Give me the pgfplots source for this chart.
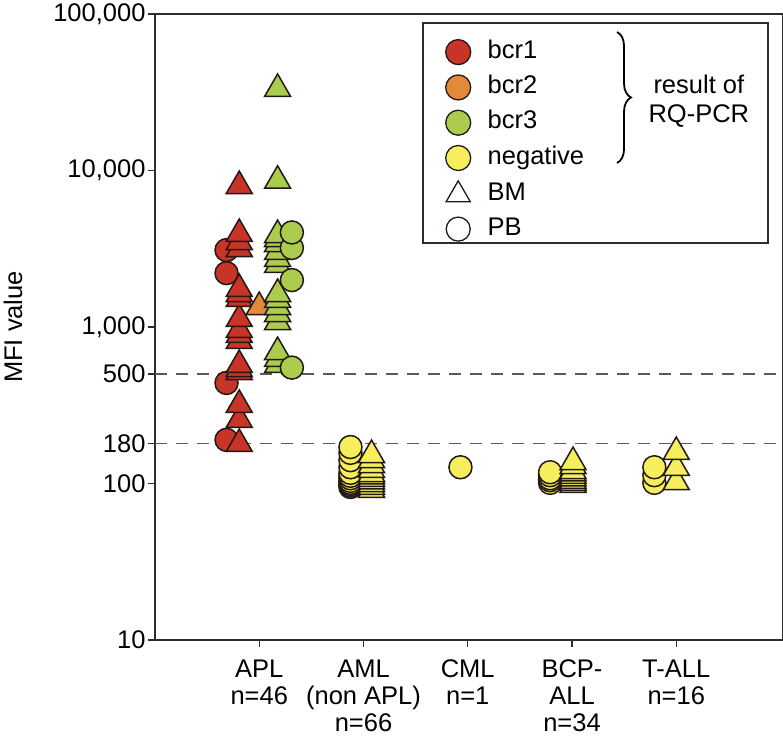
\documentclass[border=0pt]{standalone}
\usepackage{fontspec}
\setmainfont{Liberation Sans}
\usepackage{pgfplots}
\pgfplotsset{compat=1.18}
\usetikzlibrary{decorations.pathreplacing}
\definecolor{cred}{RGB}{200,52,40}
\definecolor{corange}{RGB}{224,138,58}
\definecolor{cgreen}{RGB}{172,204,78}
\definecolor{cyellow}{RGB}{246,238,92}
\definecolor{axgray}{RGB}{45,45,45}
\definecolor{dashgray}{RGB}{90,90,90}
\definecolor{mkedge}{RGB}{35,25,20}
\newcommand{\chfont}{\fontsize{25.5}{27}\selectfont}
\begin{document}
\begin{tikzpicture}
\useasboundingbox (-155pt,-101pt) rectangle (628pt,640pt);
\begin{axis}[
  scale only axis, width=628pt, height=626pt,
  ymode=log, ymin=10, ymax=100000,
  xmin=0, xmax=6.024,
  yminorticks=false,
  ytick={10,100,180,500,1000,10000,100000},
  yticklabels={10,100,180,500,{1,000},{10,000},{100,000}},
  xtick={1,2,3,4,5},
  xticklabels={{APL\\n=46},{AML\\(non APL)\\n=66},{CML\\n=1},{BCP-\\ALL\\n=34},{T-ALL\\n=16}},
  xticklabel style={align=center, font=\chfont, yshift=-9pt},
  yticklabel style={font=\chfont, xshift=1pt},
  xtick pos=bottom, ytick pos=left,
  tick align=outside, major tick length=7pt,
  every tick/.style={line width=1.3pt, draw=axgray},
  axis line style={line width=1.5pt, draw=axgray},
  ylabel={MFI value},
  ylabel style={at={(rel axis cs:-0.226,0.5)}, anchor=center, font=\chfont},
  clip=false,
  legend cell align=left,
  legend image code/.code={\draw[#1] plot coordinates {(0pt,0pt)};},
  legend style={at={(rel axis cs:0.4626,0.9594)}, anchor=north west, draw=none, fill=none,
    inner sep=0pt, row sep=10.3pt, column sep=17pt,
    font=\chfont,
    nodes={inner sep=0pt, text height=18pt, text depth=6pt}},
]
% threshold lines
\addplot[forget plot, dashgray, line width=1.8pt, dash pattern=on 12pt off 9pt] coordinates {(0,500) (6.024,500)};
\addplot[forget plot, dashgray, line width=1.8pt, dash pattern=on 12pt off 9pt] coordinates {(0,180) (6.024,180)};
% APL bcr1 PB
\addplot[forget plot, only marks, mark=*, mark size=11.5pt, mark options={fill=cred, draw=mkedge, line width=1.5pt}] coordinates {
(0.686,190) (0.686,439) (0.686,2210) (0.686,3100)};
% APL bcr1 BM
\addplot[forget plot, only marks, mark=triangle*, mark size=15pt, mark options={fill=cred, draw=mkedge, line width=1.5pt}] coordinates {
(0.808,179) (0.808,255) (0.808,318) (0.808,515) (0.808,539) (0.808,572) (0.808,814) (0.808,889) (0.808,957) (0.808,1125) (0.808,1510) (0.808,1625) (0.808,1750) (0.808,3150) (0.808,3490) (0.808,3930) (0.808,7960)};
% APL bcr2 BM
\addplot[forget plot, only marks, mark=triangle*, mark size=15pt, mark options={fill=corange, draw=mkedge, line width=1.5pt}] coordinates {
(1.0,1342)};
% APL bcr3 BM
\addplot[forget plot, only marks, mark=triangle*, mark size=15pt, mark options={fill=cgreen, draw=mkedge, line width=1.5pt}] coordinates {
(1.176,572) (1.176,625) (1.176,692) (1.176,1076) (1.176,1210) (1.176,1342) (1.176,1490) (1.176,1625) (1.176,2490) (1.176,2720) (1.176,3015) (1.176,3390) (1.176,3650) (1.176,3870) (1.176,8600) (1.176,33200)};
% APL bcr3 PB
\addplot[forget plot, only marks, mark=*, mark size=11.5pt, mark options={fill=cgreen, draw=mkedge, line width=1.5pt}] coordinates {
(1.313,550) (1.313,1995) (1.313,3200) (1.313,4020)};
% AML negative PB
\addplot[forget plot, only marks, mark=*, mark size=11.5pt, mark options={fill=cyellow, draw=mkedge, line width=1.5pt}] coordinates {
(1.875,95) (1.875,97) (1.875,99) (1.875,101) (1.875,104) (1.875,108) (1.875,112) (1.875,117) (1.875,127) (1.875,141) (1.875,157) (1.875,171)};
% AML negative BM
\addplot[forget plot, only marks, mark=triangle*, mark size=15pt, mark options={fill=cyellow, draw=mkedge, line width=1.5pt}] coordinates {
(2.077,91) (2.077,95) (2.077,99) (2.077,103) (2.077,107) (2.077,111) (2.077,115) (2.077,122) (2.077,131) (2.077,141) (2.077,152)};
% CML negative PB
\addplot[forget plot, only marks, mark=*, mark size=11.5pt, mark options={fill=cyellow, draw=mkedge, line width=1.5pt}] coordinates {
(2.93,127)};
% BCP-ALL negative PB
\addplot[forget plot, only marks, mark=*, mark size=11.5pt, mark options={fill=cyellow, draw=mkedge, line width=1.5pt}] coordinates {
(3.79,101) (3.79,105) (3.79,108) (3.79,113) (3.79,118)};
% BCP-ALL negative BM
\addplot[forget plot, only marks, mark=triangle*, mark size=15pt, mark options={fill=cyellow, draw=mkedge, line width=1.5pt}] coordinates {
(4.01,98) (4.01,101) (4.01,104) (4.01,108) (4.01,112) (4.01,116) (4.01,120) (4.01,129) (4.01,137)};
% T-ALL negative PB
\addplot[forget plot, only marks, mark=*, mark size=11.5pt, mark options={fill=cyellow, draw=mkedge, line width=1.5pt}] coordinates {
(4.79,101) (4.79,113) (4.79,127)};
% T-ALL negative BM
\addplot[forget plot, only marks, mark=triangle*, mark size=15pt, mark options={fill=cyellow, draw=mkedge, line width=1.5pt}] coordinates {
(5.0,102) (5.0,126) (5.0,159)};
% legend
\addlegendimage{only marks, mark=*, mark size=12.5pt, mark options={fill=cred, draw=mkedge, line width=1.3pt}}
\addlegendentry{bcr1}
\addlegendimage{only marks, mark=*, mark size=12.5pt, mark options={fill=corange, draw=mkedge, line width=1.3pt}}
\addlegendentry{bcr2}
\addlegendimage{only marks, mark=*, mark size=12.5pt, mark options={fill=cgreen, draw=mkedge, line width=1.3pt}}
\addlegendentry{bcr3}
\addlegendimage{only marks, mark=*, mark size=12.5pt, mark options={fill=cyellow, draw=mkedge, line width=1.3pt}}
\addlegendentry{negative}
\addlegendimage{only marks, mark=triangle, mark size=14pt, mark options={draw=mkedge, line width=1.3pt}}
\addlegendentry{BM}
\addlegendimage{only marks, mark=o, mark size=12pt, mark options={draw=mkedge, line width=1.3pt}}
\addlegendentry{PB}
\draw[axgray, line width=1.5pt] (rel axis cs:0.4268,0.9856) rectangle (rel axis cs:0.9761,0.6342);
\draw[black, line width=1.8pt, decorate, decoration={brace, amplitude=14pt}] (rel axis cs:0.7357,0.9712) -- (rel axis cs:0.7357,0.762);
\node[align=center, font=\fontsize{25.5}{29}\selectfont] at (rel axis cs:0.866,0.861) {result of\\RQ-PCR};
\end{axis}
\end{tikzpicture}
\end{document}
